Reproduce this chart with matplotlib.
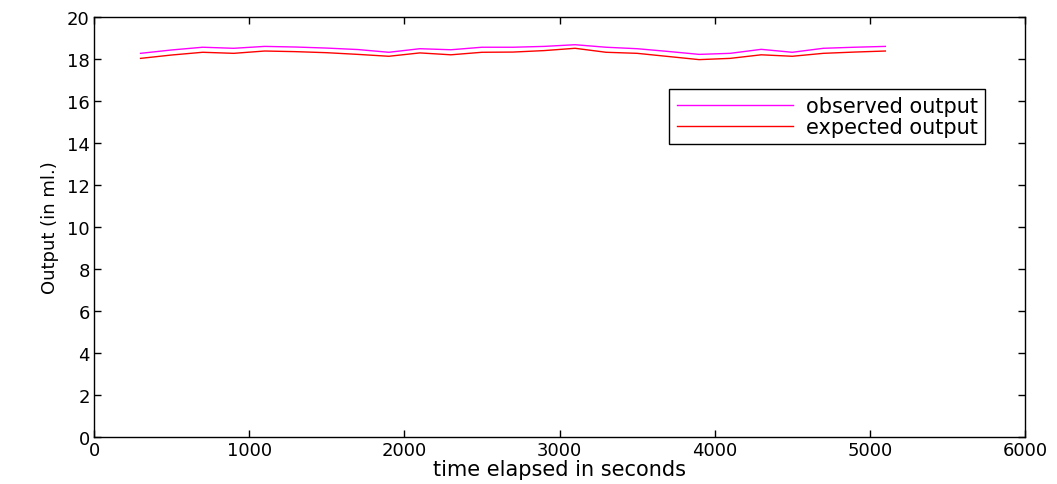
import matplotlib
matplotlib.use("Agg")
import matplotlib.pyplot as plt

# time (s) and outputs (ml)
t = [300, 500, 700, 900, 1100, 1300, 1500, 1700, 1900, 2100, 2300, 2500, 2700,
     2900, 3100, 3300, 3500, 3700, 3900, 4100, 4300, 4500, 4700, 4900, 5100]
observed = [18.27, 18.43, 18.56, 18.51, 18.60, 18.57, 18.52, 18.45, 18.32, 18.49,
            18.44, 18.56, 18.56, 18.60, 18.68, 18.56, 18.49, 18.36, 18.22, 18.27,
            18.46, 18.32, 18.51, 18.56, 18.60]
expected = [18.03, 18.19, 18.32, 18.27, 18.38, 18.35, 18.30, 18.22, 18.13, 18.29,
            18.20, 18.32, 18.33, 18.40, 18.51, 18.32, 18.27, 18.12, 17.97, 18.03,
            18.20, 18.13, 18.27, 18.33, 18.38]

xticks = [0, 1000, 2000, 3000, 4000, 5000, 6000]
yticks = [0, 2, 4, 6, 8, 10, 12, 14, 16, 18, 20]

plt.rcParams["font.family"] = ["DejaVu Sans"]

fig = plt.figure(figsize=(10.57, 4.85), dpi=100)
ax = fig.add_axes([94 / 1057, 1 - 438 / 485, 931 / 1057, 420 / 485])

ax.plot(t, observed, color="#ff00ff", lw=1, label="observed output")
ax.plot(t, expected, color="#ff0000", lw=1, label="expected output")

ax.set_xlim(0, 6000)
ax.set_ylim(0, 20)
ax.set_xticks(xticks)
ax.set_yticks(yticks)
ax.tick_params(direction="in", top=True, right=True, length=5, width=1,
               labelsize=13, pad=3)
for s in ax.spines.values():
    s.set_linewidth(1)

ax.set_xlabel("time elapsed in seconds", fontsize=15, labelpad=0)
ax.set_ylabel("Output (in ml.)", fontsize=13, labelpad=6)

leg = ax.legend(loc="upper right", bbox_to_anchor=(0.957, 0.829), fontsize=15,
                handlelength=5.6, handletextpad=0.6, fancybox=False,
                edgecolor="black", framealpha=1, borderpad=0.35,
                borderaxespad=0, labelspacing=0.05)
leg.get_frame().set_linewidth(1)

fig.savefig("out.png", dpi=100)
